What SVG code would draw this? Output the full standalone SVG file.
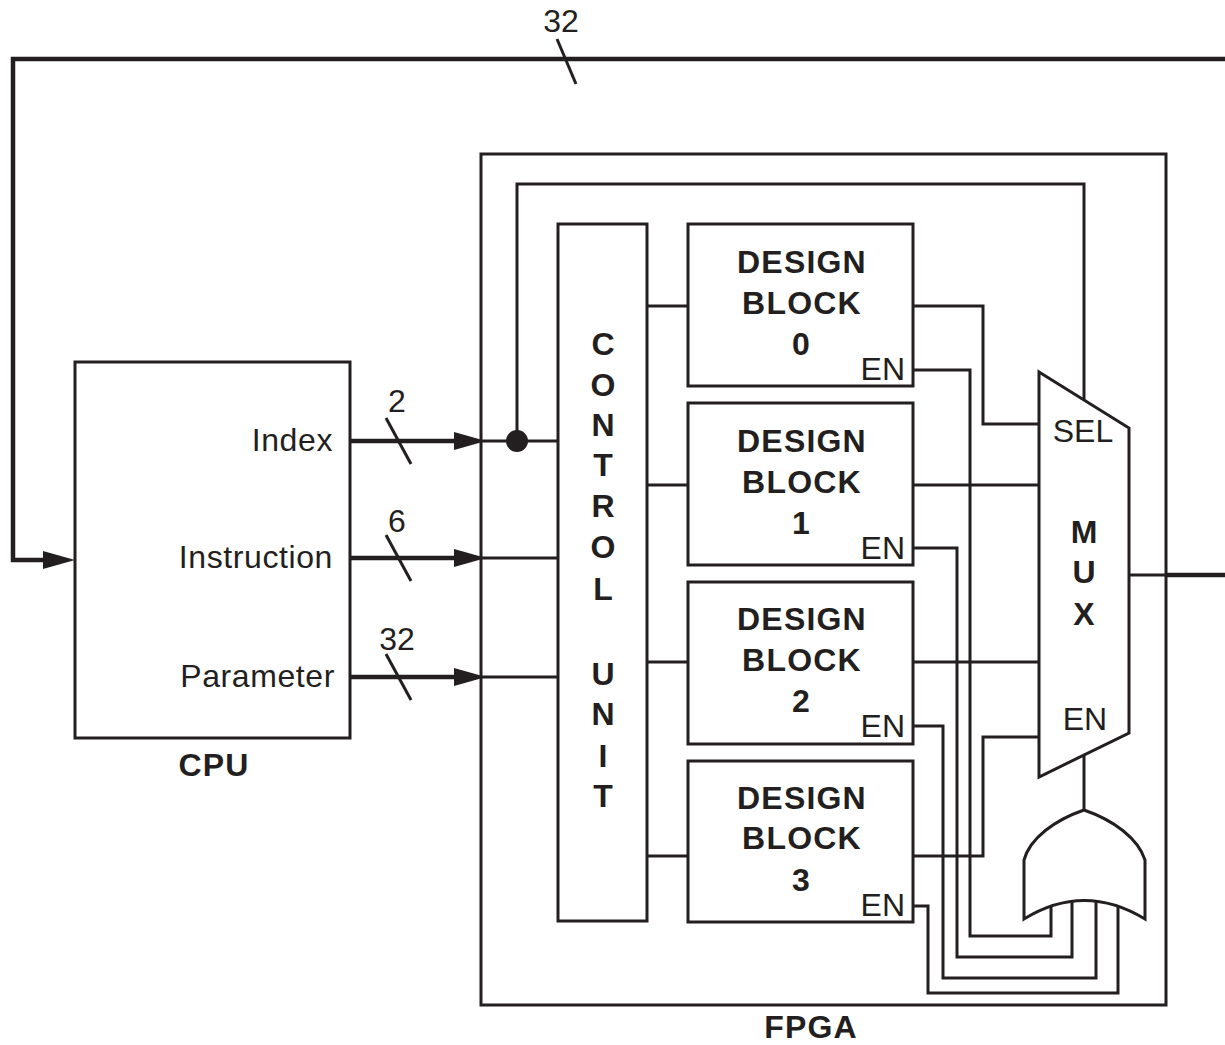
<svg xmlns="http://www.w3.org/2000/svg" width="1225" height="1045" viewBox="0 0 1225 1045">
<style>
.w{fill:none;stroke:#231f20;stroke-width:3;stroke-linejoin:miter;stroke-linecap:butt}
.bus{fill:none;stroke:#231f20;stroke-width:4.5}
.box{fill:#fff;stroke:#231f20;stroke-width:3}
.t{font-family:"Liberation Sans",Arial,sans-serif;font-size:32px;fill:#231f20}
.b{font-family:"Liberation Sans",Arial,sans-serif;font-size:32px;font-weight:bold;fill:#231f20;text-anchor:middle}
.ls{letter-spacing:1.2px}
.m{text-anchor:middle}
.e{text-anchor:end}
</style>
<defs>
<marker id="ah" markerUnits="userSpaceOnUse" markerWidth="34" markerHeight="20" refX="12" refY="10" orient="auto">
<path d="M0,1 L32,10 L0,19 Z" fill="#231f20"/>
</marker>
</defs>
<rect width="1225" height="1045" fill="#fff"/>

<g id="fpga">
<rect class="box" x="481" y="154" width="685" height="851"/>
<text class="b ls" x="811" y="1038">FPGA</text>
</g>

<g id="connectors">
<!-- top feedback bus -->
<path class="bus" d="M1225,59 H13 V560 H55" stroke-width="5" marker-end="url(#ah)"/>
<line class="w" x1="557" y1="39" x2="576" y2="84"/>
<text class="t m" x="561" y="32">32</text>
<!-- CPU to FPGA buses -->
<line class="bus" x1="350" y1="441" x2="466" y2="441" marker-end="url(#ah)"/>
<line class="bus" x1="350" y1="558" x2="466" y2="558" marker-end="url(#ah)"/>
<line class="bus" x1="350" y1="677" x2="466" y2="677" marker-end="url(#ah)"/>
<line class="w" x1="386" y1="418" x2="411" y2="464"/>
<line class="w" x1="386" y1="535" x2="411" y2="581"/>
<line class="w" x1="386" y1="654" x2="411" y2="700"/>
<text class="t m" x="397" y="412">2</text>
<text class="t m" x="397" y="532">6</text>
<text class="t m" x="397" y="650">32</text>
<!-- inside FPGA to control unit -->
<line class="w" x1="480" y1="441" x2="558" y2="441"/>
<line class="w" x1="480" y1="558" x2="558" y2="558"/>
<line class="w" x1="480" y1="677" x2="558" y2="677"/>
<circle cx="517" cy="441" r="11" fill="#231f20"/>
<path class="w" d="M517,441 V184 H1084 V410"/>
<!-- control unit to design blocks -->
<line class="w" x1="647" y1="306" x2="688" y2="306"/>
<line class="w" x1="647" y1="485" x2="688" y2="485"/>
<line class="w" x1="647" y1="662" x2="688" y2="662"/>
<line class="w" x1="647" y1="856" x2="688" y2="856"/>
<!-- design block outputs to MUX -->
<path class="w" d="M913,306 H983 V424 H1040"/>
<line class="w" x1="913" y1="485" x2="1040" y2="485"/>
<line class="w" x1="913" y1="662" x2="1040" y2="662"/>
<path class="w" d="M913,856 H983 V737 H1040"/>
<!-- EN lines to OR gate -->
<path class="w" d="M913,370 H970 V936 H1051 V895"/>
<path class="w" d="M913,548 H957 V957 H1072 V895"/>
<path class="w" d="M913,726 H943 V978 H1096 V895"/>
<path class="w" d="M913,906 H928 V993 H1118 V895"/>
<!-- OR to MUX enable -->
<line class="w" x1="1084" y1="750" x2="1084" y2="812"/>
<!-- MUX output -->
<line class="w" x1="1128" y1="575" x2="1166" y2="575"/>
<line class="bus" x1="1166" y1="575" x2="1225" y2="575"/>
</g>

<g id="cpu">
<rect class="box" x="75" y="362" width="275" height="376"/>
<text class="t e" x="333" y="451" letter-spacing="0.6">Index</text>
<text class="t e" x="333" y="568" letter-spacing="0.6">Instruction</text>
<text class="t e" x="335" y="687" letter-spacing="0.6">Parameter</text>
<text class="b ls" x="214" y="776">CPU</text>
</g>

<g id="control-unit">
<rect class="box" x="558" y="224" width="89" height="697"/>
<text class="b" x="603" y="355">C</text>
<text class="b" x="603" y="396">O</text>
<text class="b" x="603" y="436">N</text>
<text class="b" x="603" y="476">T</text>
<text class="b" x="603" y="517">R</text>
<text class="b" x="603" y="558">O</text>
<text class="b" x="603" y="600">L</text>
<text class="b" x="603" y="685">U</text>
<text class="b" x="603" y="725">N</text>
<text class="b" x="603" y="767">I</text>
<text class="b" x="603" y="807">T</text>
</g>

<g id="design-block-0">
<rect class="box" x="688" y="224" width="225" height="162"/>
<text class="b ls" x="802" y="273">DESIGN</text>
<text class="b ls" x="802" y="314">BLOCK</text>
<text class="b" x="801" y="355">0</text>
<text class="t e" x="905" y="380">EN</text>
</g>

<g id="design-block-1">
<rect class="box" x="688" y="403" width="225" height="162"/>
<text class="b ls" x="802" y="452">DESIGN</text>
<text class="b ls" x="802" y="493">BLOCK</text>
<text class="b" x="801" y="534">1</text>
<text class="t e" x="905" y="559">EN</text>
</g>

<g id="design-block-2">
<rect class="box" x="688" y="582" width="225" height="162"/>
<text class="b ls" x="802" y="630">DESIGN</text>
<text class="b ls" x="802" y="671">BLOCK</text>
<text class="b" x="801" y="712">2</text>
<text class="t e" x="905" y="737">EN</text>
</g>

<g id="design-block-3">
<rect class="box" x="688" y="761" width="225" height="161"/>
<text class="b ls" x="802" y="809">DESIGN</text>
<text class="b ls" x="802" y="849">BLOCK</text>
<text class="b" x="801" y="891">3</text>
<text class="t e" x="905" y="916">EN</text>
</g>

<g id="mux">
<polygon class="box" points="1039,372 1129,428 1129,733 1039,777"/>
<text class="t m" x="1083" y="442">SEL</text>
<text class="b" x="1084" y="543">M</text>
<text class="b" x="1084" y="583">U</text>
<text class="b" x="1084" y="625">X</text>
<text class="t m" x="1085" y="730">EN</text>
</g>

<g id="or-gate">
<path class="box" d="M1024,860 C1030,838 1055,820 1084,810 C1113,820 1138,838 1145,860 L1145,919 Q1084,882 1024,919 Z"/>
</g>
</svg>
